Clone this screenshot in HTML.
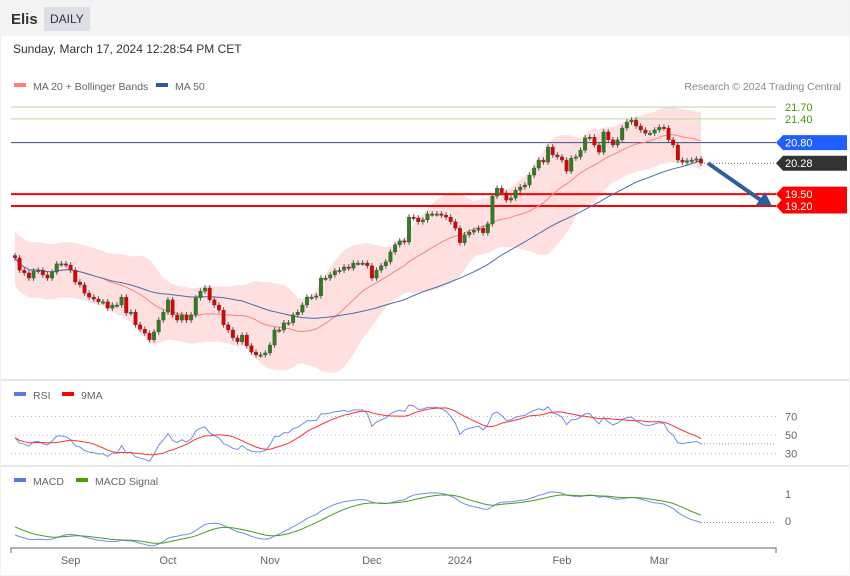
<!DOCTYPE html>
<html><head><meta charset="utf-8"><style>
body{margin:0;width:850px;height:576px;overflow:hidden;background:#f2f2f2;font-family:"Liberation Sans",sans-serif;}
#wrap{position:absolute;left:1px;top:1px;width:848px;height:574px;background:#fff;}
svg{position:absolute;left:0;top:0;}
</style></head><body>
<div id="wrap"></div>
<svg id="c" width="850" height="576" font-family="Liberation Sans, sans-serif"></svg>
<script>
const closes=[17.89,17.58,17.51,17.38,17.56,17.58,17.46,17.38,17.53,17.74,17.74,17.71,17.58,17.28,17.21,17.00,16.90,16.85,16.78,16.78,16.62,16.70,16.70,16.90,16.50,16.52,16.20,16.09,15.99,15.82,16.02,16.32,16.52,16.83,16.45,16.32,16.45,16.32,16.45,16.88,17.05,17.13,16.83,16.70,16.57,16.20,16.07,15.87,15.77,15.94,15.67,15.51,15.44,15.44,15.49,15.69,16.07,16.07,16.25,16.25,16.45,
16.52,16.70,16.90,16.90,16.93,17.38,17.38,17.46,17.56,17.58,17.66,17.63,17.76,17.76,17.76,17.69,17.38,17.58,17.69,17.79,18.04,18.22,18.32,18.29,18.92,18.90,18.80,18.85,19.00,19.00,19.00,18.97,18.92,18.80,18.64,18.27,18.47,18.54,18.59,18.64,18.52,18.75,19.45,19.65,19.53,19.35,19.40,19.60,19.68,19.73,19.98,20.16,20.36,20.31,20.69,20.49,20.44,20.36,20.08,20.41,20.44,20.61,20.92,20.94,20.74,20.56,21.07,20.87,20.74,20.87,21.17,21.32,21.37,21.22,21.12,21.04,21.04,21.12,21.19,21.17,20.87,20.74,20.36,20.31,20.34,20.36,20.39,20.28];
const firstOpen=17.95;
const monthLabels=["Sep","Oct","Nov","Dec","2024","Feb","Mar"];
const monthIdx=[12,33,55,77,96,118,139];
const levelGreen=[21.70,21.40];
const levelBlue=[20.80];
const levelRed=[19.50,19.20];
const lastPrice=20.28;
const rsiTicks=[70,50,30];
const macdTickVals=[0.5,0];
const macdTickLabels=["1","0"];

const NS="http://www.w3.org/2000/svg",svg=document.getElementById('c');
function el(t,a,p){const e=document.createElementNS(NS,t);for(const k in a)e.setAttribute(k,a[k]);(p||svg).appendChild(e);return e;}
function tx(s,a){const e=el('text',a);e.textContent=s;return e;}
const X=i=>15+i*(686/(closes.length-1));
const Y=p=>107+(21.70-p)*39.6;
const RY=v=>435-(v-50)*0.925;
const MY=v=>521-v*54;
const N=closes.length;
let r=el('rect',{x:1,y:1,width:848,height:35,fill:'#f4f4f4'});
let t=tx('Elis',{x:11,y:24,'font-size':15,'font-weight':'bold',fill:'#333'});
r=el('rect',{x:44,y:7,width:46,height:24,fill:'#dcdfe5'});
t=tx('DAILY',{x:50,y:23,'font-size':12,fill:'#333'});
t=tx('Sunday, March 17, 2024 12:28:54 PM CET',{x:13,y:53,'font-size':12,fill:'#333'});
function leg(x,y,c,s,n){let a=el('rect',{x:x,y:y-3,width:12,height:4,fill:c});let b=tx(s,{x:x+19,y:y+4,'font-size':10.5,fill:'#666'});}
leg(14,86,'#ff7f7f','MA 20 + Bollinger Bands','ma20');leg(156,86,'#2e5b9a','MA 50','ma50');
t=tx('Research © 2024 Trading Central',{x:841,y:90,'font-size':10.5,fill:'#888','text-anchor':'end'});
leg(14,395,'#5a7be0','RSI','rsi');leg(62,395,'#ff0000','9MA','rsi-ma');
leg(14,481,'#5a7be0','MACD','macd');leg(76,481,'#4a9a00','MACD Signal','macd-signal');
for(const y of [380,466]){let l=el('line',{x1:1,x2:849,y1:y,y2:y,stroke:'#e6e8ec','stroke-width':2});}
function sma(a,n,i){let s=0,c=0;for(let j=Math.max(0,i-n+1);j<=i;j++){s+=a[j];c++;}return s/c;}
function sd(a,n,i){const m=sma(a,n,i);let s=0,c=0;for(let j=Math.max(0,i-n+1);j<=i;j++){s+=(a[j]-m)**2;c++;}return Math.sqrt(s/c);}
const ma20=[],ma50=[],up=[],lo=[];
for(let i=0;i<N;i++){ma20.push(sma(closes,20,i));ma50.push(sma(closes,50,i));const s=Math.max(sd(closes,20,i),0.35);up.push(ma20[i]+2*s);lo.push(ma20[i]-2*s);}
const pts=(arr,fy)=>arr.map((v,i)=>X(i).toFixed(1)+','+fy(v).toFixed(1)).join(' ');
let band=el('polygon',{points:pts(up,Y)+' '+lo.map((v,i)=>[X(i),Y(v)]).reverse().map(p=>p[0].toFixed(1)+','+p[1].toFixed(1)).join(' '),fill:'#ffe0e0'});

for(const v of levelGreen){let l=el('line',{x1:11,x2:776,y1:Y(v),y2:Y(v),stroke:'#b9d9a0','stroke-width':1});
let lt=tx(v.toFixed(2),{x:785,y:Y(v)+4,'font-size':11,fill:'#4a9a00'});}
for(const v of levelBlue){let l=el('line',{x1:11,x2:776,y1:Y(v),y2:Y(v),stroke:'#3a4e8c','stroke-width':1});}
for(const v of levelRed){let l=el('line',{x1:11,x2:776,y1:Y(v),y2:Y(v),stroke:'#ff0000','stroke-width':2});}
let ml=el('polyline',{points:pts(ma20,Y),fill:'none',stroke:'#ff8080','stroke-width':1});
ml=el('polyline',{points:pts(ma50,Y),fill:'none',stroke:'#4a6ea8','stroke-width':1});
for(let i=0;i<N;i++){const o=i?closes[i-1]:firstOpen,c=closes[i];const x=X(i);const hi=Math.max(o,c)+0.07,lw=Math.min(o,c)-0.07;
let w=el('line',{x1:x,x2:x,y1:Y(hi),y2:Y(lw),stroke:'#555','stroke-width':1});
const top=Y(Math.max(o,c)),h=Math.max(1.5,Y(Math.min(o,c))-top);
let b=el('rect',{x:x-1.8,y:top,width:3.6,height:h,fill:c>=o?'#2e7d1e':'#e00000',stroke:'#444','stroke-width':0.3});}
let d=el('line',{x1:X(N-1)+3,x2:776,y1:Y(lastPrice),y2:Y(lastPrice),stroke:'#666','stroke-width':1,'stroke-dasharray':'1,2'});
function badge(v,col,n){const y=Y(v);let p=el('polygon',{points:`776,${y} 783,${y-7.5} 847,${y-7.5} 847,${y+7.5} 783,${y+7.5}`,fill:col});
let s=tx(v.toFixed(2),{x:785,y:y+4,'font-size':11,fill:'#fff'});}
badge(levelBlue[0],'#1f5fff','pivot');badge(lastPrice,'#333333','last-price');badge(levelRed[0],'#ff0000','support1');badge(levelRed[1],'#ff0000','support2');
let ar=el('line',{x1:708,y1:Y(lastPrice),x2:762,y2:Y(levelRed[1])-5,stroke:'#2f5e9e','stroke-width':4});
let ah=el('polygon',{points:`772,${Y(levelRed[1])} 756,${Y(levelRed[1])-1} 765,${Y(levelRed[1])-14}`,fill:'#2f5e9e'});
const rsi=[];let ag=0,al=0;
for(let i=0;i<N;i++){const ch=i?closes[i]-closes[i-1]:0;const g=Math.max(ch,0),l=Math.max(-ch,0);if(i<1){ag=0.08;al=0.09;}else{ag=(ag*13+g)/14;al=(al*13+l)/14;}rsi.push(100-100/(1+ag/al));}
const rsiMa=rsi.map((v,i)=>sma(rsi,9,i));
for(const v of rsiTicks){let g=el('line',{x1:11,x2:776,y1:RY(v),y2:RY(v),stroke:'#bbb','stroke-dasharray':'1,3'});
let s=tx(String(v),{x:785,y:RY(v)+4,'font-size':11,fill:'#666'});}
let rl=el('polyline',{points:pts(rsi,RY),fill:'none',stroke:'#6f8ee8','stroke-width':1});
rl=el('polyline',{points:pts(rsiMa,RY),fill:'none',stroke:'#ff3030','stroke-width':1});
rl=el('line',{x1:X(N-1),x2:776,y1:RY(rsi[N-1]),y2:RY(rsi[N-1]),stroke:'#6f8ee8','stroke-dasharray':'1,2'});
const macd=[],sig=[];let e12=closes[0]+0.35,e26=closes[0]+0.6,es;
for(let i=0;i<N;i++){e12+=(closes[i]-e12)*2/13;e26+=(closes[i]-e26)*2/27;const m=e12-e26;macd.push(m);es=i?es+(m-es)*0.2:m+0.15;sig.push(es);}
macdTickVals.forEach((v,k)=>{let s=tx(macdTickLabels[k],{x:785,y:MY(v)+4,'font-size':11,fill:'#666'});});
let mm=el('polyline',{points:pts(macd,MY),fill:'none',stroke:'#6f8ee8','stroke-width':1});
mm=el('polyline',{points:pts(sig,MY),fill:'none',stroke:'#4a9a20','stroke-width':1});
mm=el('line',{x1:X(N-1),x2:776,y1:MY(macd[N-1]),y2:MY(macd[N-1]),stroke:'#6f8ee8','stroke-dasharray':'1,2'});
let ax=el('path',{d:'M11,553 V548 H776 V553',fill:'none',stroke:'#999','stroke-width':1.5});
monthLabels.forEach((m,k)=>{let s=tx(m,{x:X(monthIdx[k]),y:564,'font-size':11,fill:'#666','text-anchor':'middle'});});
</script>
</body></html>
